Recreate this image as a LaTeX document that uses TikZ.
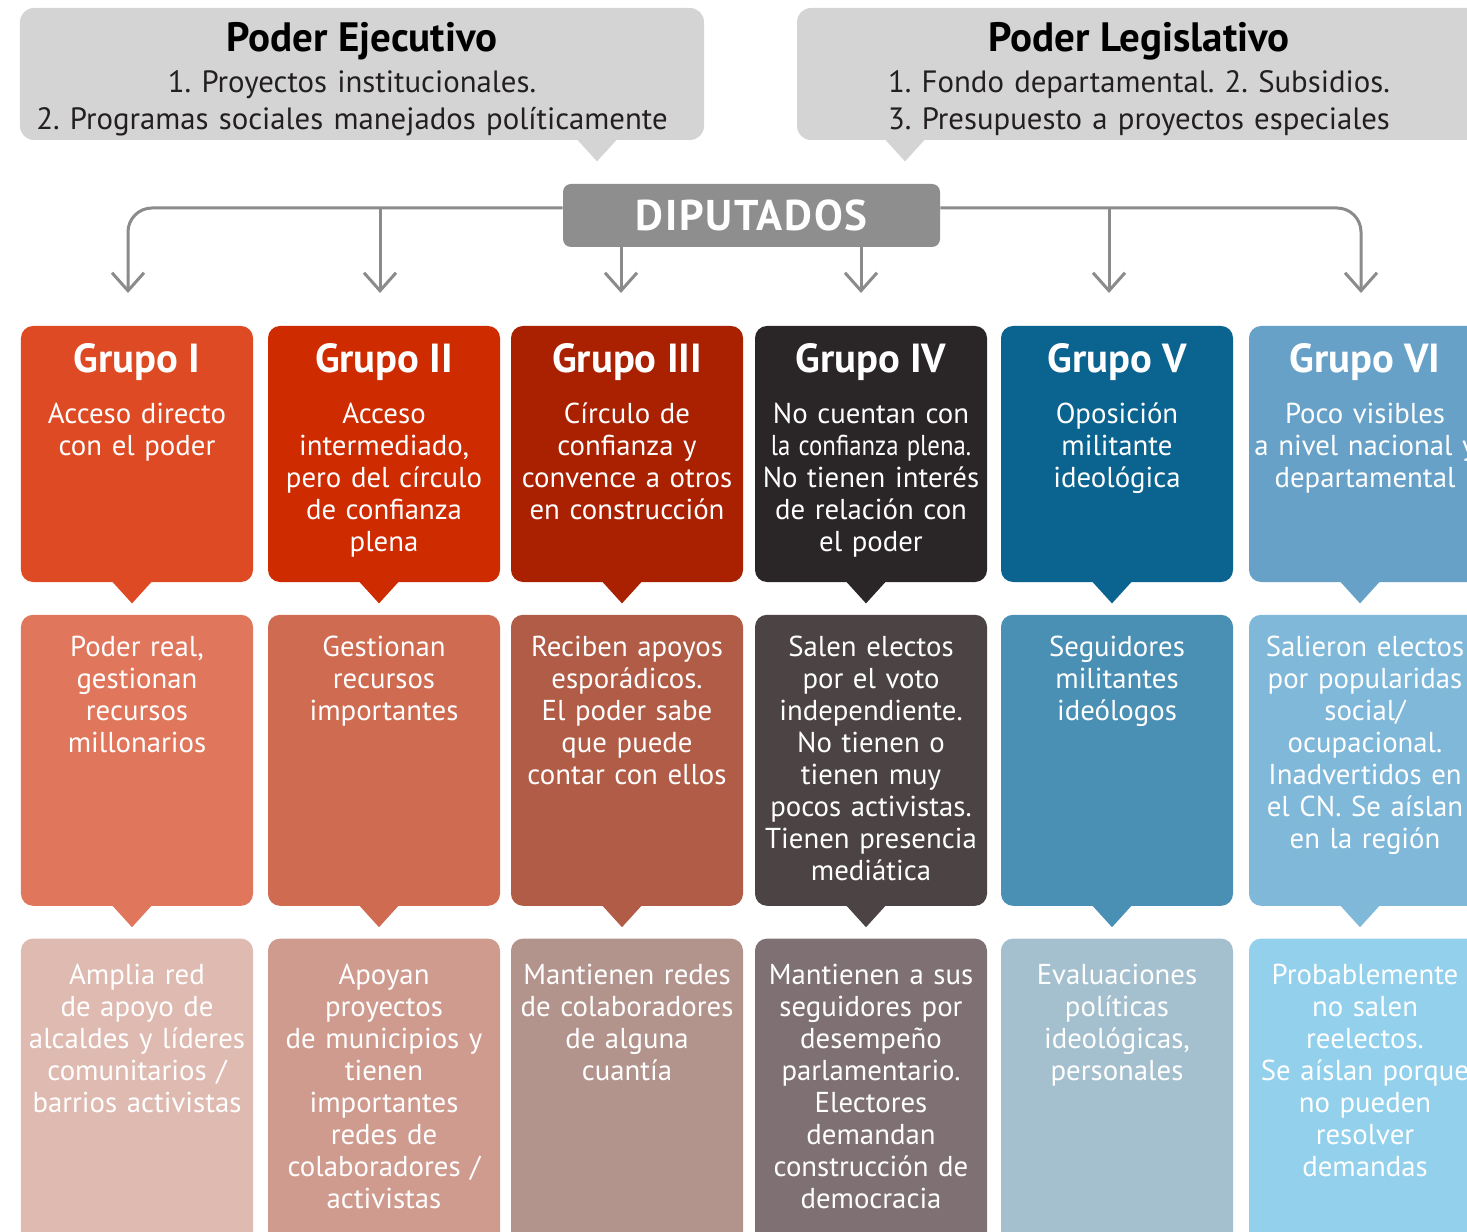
\documentclass[tikz,border=0pt]{standalone}
\usepackage{fontspec}
\usepackage{graphicx}
\setmainfont{PT Sans}
\frenchspacing
\usetikzlibrary{positioning,arrows.meta}

\definecolor{Gris}{HTML}{D4D4D4}
\definecolor{GrisOscuro}{HTML}{8E8E8E}
\definecolor{GrisLinea}{HTML}{8B8B8B}
\definecolor{TextoGris}{HTML}{231F20}
\definecolor{GrupoIA}{HTML}{DE4A23}
\definecolor{GrupoIB}{HTML}{E0765B}
\definecolor{GrupoIC}{HTML}{DEBAB1}
\definecolor{GrupoIIA}{HTML}{CE2B00}
\definecolor{GrupoIIB}{HTML}{CE6B51}
\definecolor{GrupoIIC}{HTML}{CF9B8E}
\definecolor{GrupoIIIA}{HTML}{A92100}
\definecolor{GrupoIIIB}{HTML}{B05C46}
\definecolor{GrupoIIIC}{HTML}{B3948D}
\definecolor{GrupoIVA}{HTML}{2A2526}
\definecolor{GrupoIVB}{HTML}{4B4344}
\definecolor{GrupoIVC}{HTML}{7F7173}
\definecolor{GrupoVA}{HTML}{0B6390}
\definecolor{GrupoVB}{HTML}{4A8FB4}
\definecolor{GrupoVC}{HTML}{A4BFCD}
\definecolor{GrupoVIA}{HTML}{68A1C7}
\definecolor{GrupoVIB}{HTML}{80B8DA}
\definecolor{GrupoVIC}{HTML}{92D0EC}

% pointer under a box: colour, node, shift of the tip
\newcommand{\Puntero}[3]{%
  \fill[#1] ([xshift=#3-10bp, yshift=0.5bp]#2.south) -- ([xshift=#3, yshift=-10.5bp]#2.south)
    -- ([xshift=#3+10bp, yshift=0.5bp]#2.south) -- cycle;}

\begin{document}
\begin{tikzpicture}[x=0.5bp, y=-0.5bp]
\tikzstyle{caja} = [rounded corners=6bp, minimum width=116bp, inner sep=0pt]
\tikzstyle{titulo} = [text=white, font=\bfseries\fontsize{20.3bp}{22bp}\selectfont, anchor=base, inner sep=0pt]
\tikzstyle{texto} = [text=white, font=\fontsize{14.4bp}{16bp}\selectfont, text width=124bp, align=center, anchor=base, inner sep=0pt]
\tikzstyle{poder} = [fill=Gris, rounded corners=7bp, minimum width=342bp, minimum height=66bp, inner sep=0pt]
\tikzstyle{linea} = [draw=GrisLinea, line width=1.5bp, -{Straight Barb[length=9bp,width=16bp]}]

\useasboundingbox (0,0) rectangle (1467,1232);
\clip (0,0) rectangle (1467,1232);

% the two powers
\node[poder] (Ejecutivo) at (362,74) {};
\node[titulo, text=black, font=\bfseries\fontsize{20.5bp}{22bp}\selectfont] (TituloEjecutivo) at ([yshift=-22bp]Ejecutivo.north) {Poder Ejecutivo};
\node[texto, text=TextoGris, text width=340bp, font=\fontsize{15.4bp}{18.5bp}\selectfont] (TextoEjecutivo) at ([xshift=-5bp, yshift=-42.5bp]Ejecutivo.north)
  {1. Proyectos institucionales.\\2. Programas sociales manejados políticamente};
\Puntero{Gris}{Ejecutivo}{117.5bp}

\node[poder] (Legislativo) at (1139,74) {};
\node[titulo, text=black, font=\bfseries\fontsize{20.5bp}{22bp}\selectfont] (TituloLegislativo) at ([yshift=-22bp]Legislativo.north) {Poder Legislativo};
\node[texto, text=TextoGris, text width=340bp, font=\fontsize{15.4bp}{18.5bp}\selectfont] (TextoLegislativo) at ([yshift=-42.5bp]Legislativo.north)
  {1. Fondo departamental. 2. Subsidios.\\3. Presupuesto a proyectos especiales};
\Puntero{Gris}{Legislativo}{-117bp}

% diputados and the arrows to the groups
\coordinate (Bus) at (0,208);
\coordinate (FlechaI) at (128,293);
\coordinate (FlechaII) at (380,293);
\coordinate (FlechaIII) at (621,293);
\coordinate (FlechaIV) at (861,293);
\coordinate (FlechaV) at (1109,293);
\coordinate (FlechaVI) at (1361,293);

\node[fill=GrisOscuro, rounded corners=4bp, minimum width=188.5bp, minimum height=31.5bp, inner sep=0pt,
  text=white, font=\bfseries\fontsize{21.5bp}{22bp}\selectfont\addfontfeature{LetterSpace=4}] (Diputados) at (751.5,215.5) {DIPUTADOS};

\draw[linea, rounded corners=12bp] (Diputados.west |- Bus) -| (FlechaI);
\draw[linea, rounded corners=12bp] (Diputados.east |- Bus) -| (FlechaVI);
\draw[linea] (FlechaII |- Bus) -- (FlechaII);
\draw[linea] (FlechaIII |- Diputados.south) -- (FlechaIII);
\draw[linea] (FlechaIV |- Diputados.south) -- (FlechaIV);
\draw[linea] (FlechaV |- Bus) -- (FlechaV);

% first row
\node[caja, fill=GrupoIA, minimum height=128bp] (GrupoI) at (137,454) {};
\node[caja, fill=GrupoIIA, minimum height=128bp] (GrupoII) at (384,454) {};
\node[caja, fill=GrupoIIIA, minimum height=128bp] (GrupoIII) at (627,454) {};
\node[caja, fill=GrupoIVA, minimum height=128bp] (GrupoIV) at (871,454) {};
\node[caja, fill=GrupoVA, minimum height=128bp] (GrupoV) at (1117,454) {};
\node[caja, fill=GrupoVIA, minimum height=128bp] (GrupoVI) at (1365,454) {};

% second row
\node[caja, fill=GrupoIB, minimum height=145.5bp, below=16bp of GrupoI] (ApoyoI) {};
\node[caja, fill=GrupoIIB, minimum height=145.5bp, below=16bp of GrupoII] (ApoyoII) {};
\node[caja, fill=GrupoIIIB, minimum height=145.5bp, below=16bp of GrupoIII] (ApoyoIII) {};
\node[caja, fill=GrupoIVB, minimum height=145.5bp, below=16bp of GrupoIV] (ApoyoIV) {};
\node[caja, fill=GrupoVB, minimum height=145.5bp, below=16bp of GrupoV] (ApoyoV) {};
\node[caja, fill=GrupoVIB, minimum height=145.5bp, below=16bp of GrupoVI] (ApoyoVI) {};

% third row
\node[caja, fill=GrupoIC, minimum height=163bp, below=16bp of ApoyoI] (RedI) {};
\node[caja, fill=GrupoIIC, minimum height=163bp, below=16bp of ApoyoII] (RedII) {};
\node[caja, fill=GrupoIIIC, minimum height=163bp, below=16bp of ApoyoIII] (RedIII) {};
\node[caja, fill=GrupoIVC, minimum height=163bp, below=16bp of ApoyoIV] (RedIV) {};
\node[caja, fill=GrupoVC, minimum height=163bp, below=16bp of ApoyoV] (RedV) {};
\node[caja, fill=GrupoVIC, minimum height=163bp, below=16bp of ApoyoVI] (RedVI) {};

\Puntero{GrupoIA}{GrupoI}{-2.5bp}
\Puntero{GrupoIIA}{GrupoII}{-2.5bp}
\Puntero{GrupoIIIA}{GrupoIII}{-2.5bp}
\Puntero{GrupoIVA}{GrupoIV}{-2.5bp}
\Puntero{GrupoVA}{GrupoV}{-2.5bp}
\Puntero{GrupoVIA}{GrupoVI}{-2.5bp}
\Puntero{GrupoIB}{ApoyoI}{-2.5bp}
\Puntero{GrupoIIB}{ApoyoII}{-2.5bp}
\Puntero{GrupoIIIB}{ApoyoIII}{-2.5bp}
\Puntero{GrupoIVB}{ApoyoIV}{-2.5bp}
\Puntero{GrupoVB}{ApoyoV}{-2.5bp}
\Puntero{GrupoVIB}{ApoyoVI}{-2.5bp}

% texts
\node[titulo] (TituloI) at ([yshift=-23.5bp]GrupoI.north) {Grupo I};
\node[titulo] (TituloII) at ([yshift=-23.5bp]GrupoII.north) {Grupo II};
\node[titulo] (TituloIII) at ([yshift=-23.5bp]GrupoIII.north) {Grupo III};
\node[titulo] (TituloIV) at ([yshift=-23.5bp]GrupoIV.north) {Grupo IV};
\node[titulo] (TituloV) at ([yshift=-23.5bp]GrupoV.north) {Grupo V};
\node[titulo] (TituloVI) at ([yshift=-23.5bp]GrupoVI.north) {Grupo VI};

\node[texto] (TextoI) at ([yshift=-49bp]GrupoI.north) {Acceso directo\\con el poder};
\node[texto] (TextoII) at ([yshift=-49bp]GrupoII.north) {Acceso\\intermediado,\\pero del círculo\\de confianza\\plena};
\node[texto] (TextoIII) at ([yshift=-49bp]GrupoIII.north) {Círculo de\\confianza y\\convence a otros\\en construcción};
\node[texto] (TextoIV) at ([yshift=-49bp]GrupoIV.north) {No cuentan con\\\scalebox{0.86}[1]{la confianza plena.}\\No tienen interés\\de relación con\\el poder};
\node[texto] (TextoV) at ([yshift=-49bp]GrupoV.north) {Oposición\\militante\\ideológica};
\node[texto] (TextoVI) at ([yshift=-49bp]GrupoVI.north) {Poco visibles\\a nivel nacional y\\departamental};

\node[texto] (ApoyoTextoI) at ([yshift=-21bp]ApoyoI.north) {Poder real,\\gestionan\\recursos\\millonarios};
\node[texto] (ApoyoTextoII) at ([yshift=-21bp]ApoyoII.north) {Gestionan\\recursos\\importantes};
\node[texto] (ApoyoTextoIII) at ([yshift=-21bp]ApoyoIII.north) {Reciben apoyos\\esporádicos.\\El poder sabe\\que puede\\contar con ellos};
\node[texto] (ApoyoTextoIV) at ([yshift=-21bp]ApoyoIV.north) {Salen electos\\por el voto\\independiente.\\No tienen o\\tienen muy\\pocos activistas.\\Tienen presencia\\mediática};
\node[texto] (ApoyoTextoV) at ([yshift=-21bp]ApoyoV.north) {Seguidores\\militantes\\ideólogos};
\node[texto] (ApoyoTextoVI) at ([yshift=-21bp]ApoyoVI.north) {Salieron electos\\por popularidas\\social/\\ocupacional.\\Inadvertidos en\\el CN. Se aíslan\\en la región};

\node[texto] (RedTextoI) at ([yshift=-23bp]RedI.north) {Amplia red\\de apoyo de\\alcaldes y líderes\\comunitarios /\\barrios activistas};
\node[texto] (RedTextoII) at ([yshift=-23bp]RedII.north) {Apoyan\\proyectos\\de municipios y\\tienen\\importantes\\redes de\\colaboradores /\\activistas};
\node[texto] (RedTextoIII) at ([yshift=-23bp]RedIII.north) {Mantienen redes\\de colaboradores\\de alguna\\cuantía};
\node[texto] (RedTextoIV) at ([yshift=-23bp]RedIV.north) {Mantienen a sus\\seguidores por\\desempeño\\parlamentario.\\Electores\\demandan\\construcción de\\democracia};
\node[texto] (RedTextoV) at ([yshift=-23bp]RedV.north) {Evaluaciones\\políticas\\ideológicas,\\personales};
\node[texto] (RedTextoVI) at ([yshift=-23bp]RedVI.north) {Probablemente\\no salen\\reelectos.\\Se aíslan porque\\no pueden\\resolver\\demandas};

\end{tikzpicture}
\end{document}
